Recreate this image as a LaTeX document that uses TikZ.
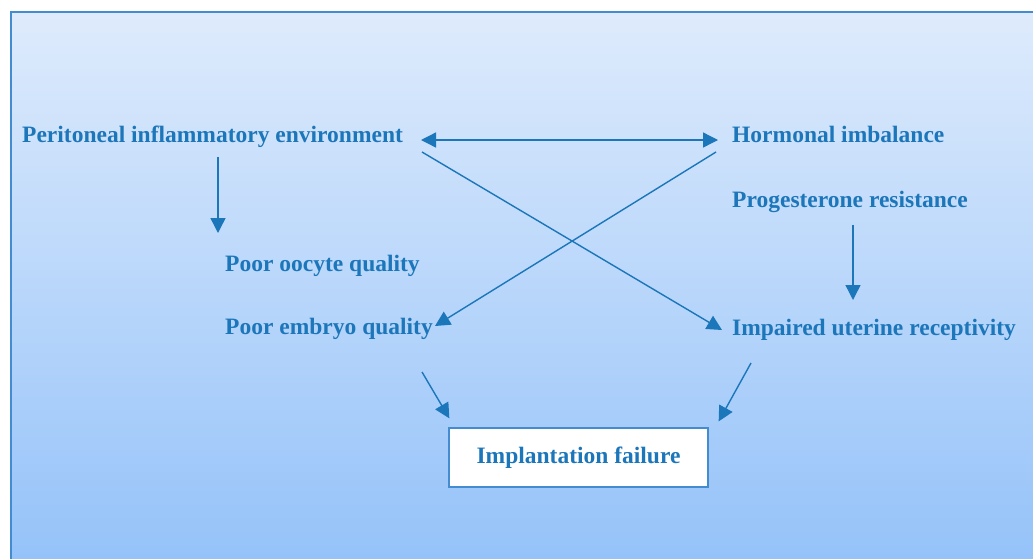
\documentclass[tikz,border=0pt]{standalone}
\usepackage{fontspec}
\setmainfont{Liberation Serif}
\usetikzlibrary{arrows.meta,positioning}
\definecolor{inkblue}{RGB}{28,118,186}
\definecolor{rimblue}{RGB}{68,140,208}
\definecolor{skytop}{RGB}{222,235,252}
\definecolor{skybot}{RGB}{148,194,249}

\begin{document}
\begin{tikzpicture}[
  x=1pt, y=-1pt,
  lbl/.style={anchor=base west, inner sep=0pt, text=inkblue, font=\fontsize{23.5}{28}\selectfont\bfseries},
  outbox/.style={rectangle, draw=rimblue, line width=1.3pt, fill=white, minimum width=259pt, minimum height=59pt, text=inkblue, font=\fontsize{23.5}{28}\selectfont\bfseries},
  arrow/.style={-{Triangle[length=15pt,width=15pt]}, draw=inkblue, fill=inkblue, line width=1.4pt}
]
  \useasboundingbox (0,0) rectangle (1033,558);
  % panel with its blue rim
  \shade[top color=skytop, bottom color=skybot] (11,12) rectangle (1040,565);
  \draw[rimblue, line width=2pt] (1040,12) -- (11,12) -- (11,565);

  \node[lbl] (perit) at (22,142) {Peritoneal inflammatory environment};
  \node[lbl] (horm) at (732,142) {Hormonal imbalance};
  \node[lbl] (prog) at (732,207) {Progesterone resistance};
  \node[lbl] (uter) at (732,335) {Impaired uterine receptivity};
  \node[lbl] (oocyte) at (225,271) {Poor oocyte quality};
  \node[lbl] (embryo) at (225,334) {Poor embryo quality};
  \node[outbox] (fail) at (578.5,457.5) {Implantation failure};

  \draw[arrow, {Triangle[length=15pt,width=15pt]}-{Triangle[length=15pt,width=15pt]}]
    ([shift={(399,-2)}]perit.base west) -- ([shift={(-14,-2)}]horm.base west);
  \draw[arrow] ([shift={(400,10)}]perit.base west) -- ([shift={(-10,-5)}]uter.base west);
  \draw[arrow] ([shift={(-16,10)}]horm.base west) -- ([shift={(210,-8)}]embryo.base west);
  \draw[arrow] ([shift={(196,15)}]perit.base west) -- ([shift={(-7,-38)}]oocyte.base west);
  \draw[arrow] ([shift={(121,18)}]prog.base west) -- ([shift={(121,-35)}]uter.base west);
  \draw[arrow] ([shift={(197,38)}]embryo.base west) -- ([shift={(1,-9)}]fail.north west);
  \draw[arrow] ([shift={(19,28)}]uter.base west) -- ([shift={(10,-6)}]fail.north east);
\end{tikzpicture}
\end{document}
